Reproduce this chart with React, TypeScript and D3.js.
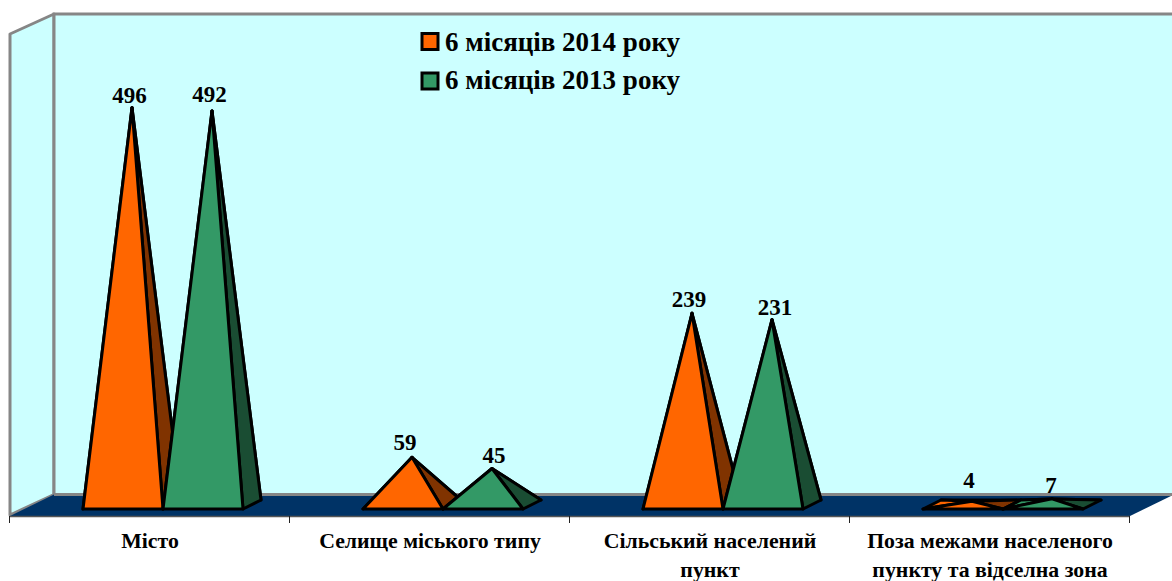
import React from "react";
import * as d3 from "d3";

const categories = [
  ["Місто"],
  ["Селище міського типу"],
  ["Сільський населений", "пункт"],
  ["Поза межами населеного", "пункту та відселна зона"],
];
const series2014 = [496, 59, 239, 4];
const series2013 = [492, 45, 231, 7];
const seriesNames = ["6 місяців 2014 року", "6 місяців 2013 року"];

const W = 1172, H = 581;
const ORANGE = "#FF6600", ORANGE_D = "#803300", GREEN = "#339966", GREEN_D = "#1A4D33";
const GREY = "#868686";

// label placement relative to each pyramid apex (chart-engine collision nudges)
const nudge2014 = [[-2.5, -5], [-7, -7], [-3, -6], [-3, -13]];
const nudge2013 = [[-2.5, -9], [2, -5.5], [3, -5], [-1, -6]];

// 3D box projection
const floorFrontY = 516;
const depthX = 44, depthY = -21.5;
const x = d3.scaleBand<number>().domain(d3.range(4)).range([10, 1130]);
const y = d3.scaleLinear().domain([0, 600]).range([504.5, 24.5]);
const barW = 80, pyrDX = 18, pyrDY = -9, offX = 13, frontY = 509;

const poly = (pts: number[][]) => pts.map((p) => p.join(",")).join(" ");

function Pyramid({ x0, v, fill, dark }: { x0: number; v: number; fill: string; dark: string }) {
  const x1 = x0 + barW;
  const ax = x0 + barW / 2 + pyrDX / 2;
  const ay = y(v);
  const a = [ax, ay];
  const bl = [x0, frontY], br = [x1, frontY];
  const tl = [x0 + pyrDX, frontY + pyrDY], tr = [x1 + pyrDX, frontY + pyrDY];
  const common = { stroke: "#000", strokeWidth: 3, strokeLinejoin: "round" as const };
  return (
    <g>
      <polygon points={poly([tl, tr, a])} fill={dark} {...common} />
      <polygon points={poly([bl, tl, a])} fill={fill} {...common} />
      <polygon points={poly([br, tr, a])} fill={dark} {...common} />
      <polygon points={poly([bl, br, a])} fill={fill} {...common} />
    </g>
  );
}

export default function App() {
  const serif = "'Liberation Serif', serif";
  const right = 1130;
  const groups = d3.range(4);
  const ticks = d3.range(5).map((i) => 10 + i * x.bandwidth());
  return (
    <svg width={W} height={H} style={{ position: "absolute", left: 0, top: 0, background: "#fff" }} fontFamily={serif} fontWeight="bold">
      {/* walls */}
      <polygon
        points={poly([[10, floorFrontY - 1], [10 + depthX, floorFrontY + depthY], [10 + depthX, 14], [10, 34]])}
        fill="#CCFFFF" stroke={GREY} strokeWidth={3} strokeLinejoin="round"
      />
      <rect x={54} y={14} width={W} height={480.5} fill="#CCFFFF" stroke={GREY} strokeWidth={3} />
      {/* floor */}
      <polygon
        points={poly([[10, floorFrontY], [10 + depthX, floorFrontY + depthY], [right + depthX, floorFrontY + depthY], [right, floorFrontY]])}
        fill="#003366"
      />
      <line x1={54} x2={W} y1={494.5} y2={494.5} stroke={GREY} strokeWidth={3} />
      <line x1={10} x2={right} y1={floorFrontY + 0.5} y2={floorFrontY + 0.5} stroke="#555" strokeWidth={1.5} />
      {ticks.map((t) => (
        <line key={t} x1={t - 0.5} x2={t - 0.5} y1={floorFrontY} y2={523} stroke="#222" strokeWidth={1} />
      ))}
      {/* pyramids */}
      {groups.map((i) => {
        const c = x(i)! + x.bandwidth() / 2 + offX;
        return (
          <g key={i}>
            <Pyramid x0={c - barW} v={series2014[i]} fill={ORANGE} dark={ORANGE_D} />
            <Pyramid x0={c} v={series2013[i]} fill={GREEN} dark={GREEN_D} />
          </g>
        );
      })}
      {/* data labels */}
      {groups.map((i) => {
        const c = x(i)! + x.bandwidth() / 2 + offX;
        return (
          <g key={i} fontSize={23} textAnchor="middle" fill="#000">
            <text x={c - barW / 2 + pyrDX / 2 + nudge2014[i][0]} y={y(series2014[i]) + nudge2014[i][1]}>{series2014[i]}</text>
            <text x={c + barW / 2 + pyrDX / 2 + nudge2013[i][0]} y={y(series2013[i]) + nudge2013[i][1]}>{series2013[i]}</text>
          </g>
        );
      })}
      {/* legend */}
      {seriesNames.map((n, i) => (
        <g key={n}>
          <rect x={422} y={33.5 + i * 39.5} width={16} height={16} fill={i === 0 ? ORANGE : GREEN} stroke="#000" strokeWidth={3} />
          <text x={445} y={50.5 + i * 38.5} fontSize={27} fill="#000">{n}</text>
        </g>
      ))}
      {/* category labels */}
      {categories.map((lines, i) => (
        <text key={i} textAnchor="middle" fontSize={21.8} fill="#000">
          {lines.map((l, j) => (
            <tspan key={j} x={x(i)! + x.bandwidth() / 2} y={548 + j * 29}>{l}</tspan>
          ))}
        </text>
      ))}
    </svg>
  );
}
